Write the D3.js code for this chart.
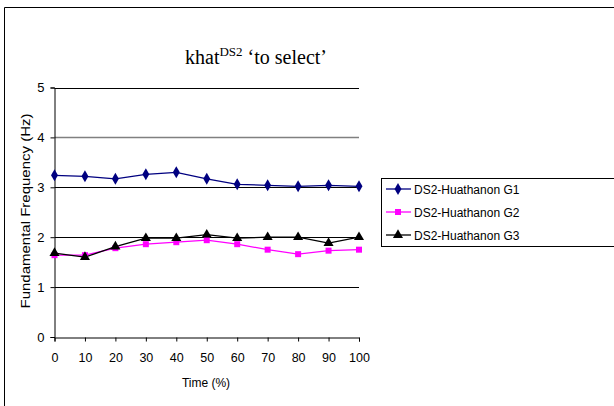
<!DOCTYPE html>
<html><head><meta charset="utf-8">
<script src="https://cdn.jsdelivr.net/npm/d3@7"></script>
<style>body{margin:0;background:#fff}svg{display:block}</style>
</head><body>
<script>
const times = [0,10,20,30,40,50,60,70,80,90,100];
const g1 = [3.24,3.22,3.17,3.26,3.30,3.17,3.06,3.04,3.02,3.04,3.02];
const g2 = [1.64,1.64,1.78,1.86,1.90,1.94,1.86,1.75,1.66,1.73,1.75];
const g3 = [1.68,1.60,1.81,1.98,1.98,2.05,1.98,2.00,2.00,1.88,2.00];
const seriesNames = ["DS2-Huathanon G1","DS2-Huathanon G2","DS2-Huathanon G3"];
const yTicks = [0,1,2,3,4,5];
const xTicks = [0,10,20,30,40,50,60,70,80,90,100];

const W=614,H=406;
const svg=d3.select("body").append("svg").attr("width",W).attr("height",H);
svg.append("rect").attr("width",W).attr("height",H).attr("fill","#fff");
// outer frame (left and top visible)
svg.append("path").attr("d","M4.5,406 V7.5 H614").attr("fill","none").attr("stroke","#000").attr("stroke-width",1);

const x=d3.scaleLinear().domain([0,100]).range([54.5,359]);
const y=d3.scaleLinear().domain([0,5]).range([337,87.5]);

// gridlines
svg.append("g").selectAll("line").data(yTicks.filter(d=>d>0)).join("line")
 .attr("x1",x(0)).attr("x2",x(100)).attr("y1",d=>Math.round(y(d))+0.5).attr("y2",d=>Math.round(y(d))+0.5)
 .attr("stroke",d=>d===4?"#808080":"#000").attr("stroke-width",d=>d===4?1.6:1);

const font="Arial, 'Liberation Sans', sans-serif";
// y axis
const ya=svg.append("g").attr("transform",`translate(${x(0)},0)`)
 .call(d3.axisLeft(y).tickValues(yTicks).tickFormat(d3.format("d")).tickSize(4).tickPadding(6));
ya.select(".domain").attr("stroke","#000");
ya.selectAll("text").attr("font-family",font).attr("font-size",13).attr("fill","#000");
// x axis
const xa=svg.append("g").attr("transform",`translate(0,${Math.round(y(0))+0.5})`)
 .call(d3.axisBottom(x).tickValues(xTicks).tickFormat(d3.format("d")).tickSize(4).tickPadding(12));
xa.select(".domain").attr("stroke","#000");
xa.selectAll("text").attr("font-family",font).attr("font-size",12.5).attr("fill","#000");

// titles
const t=svg.append("text").attr("x",256).attr("y",64).attr("text-anchor","middle")
 .attr("font-family","'Liberation Serif','Times New Roman',serif").attr("font-size",20).attr("fill","#000");
t.append("tspan").text("khat");
t.append("tspan").attr("dy",-8).attr("font-size",13).text("DS2");
t.append("tspan").attr("dy",8).text(" \u2018to select\u2019");

svg.append("text").attr("x",206).attr("y",387).attr("text-anchor","middle")
 .attr("font-family",font).attr("font-size",12).text("Time (%)");
svg.append("text").attr("transform","translate(29.5,211) scale(1,1.2) rotate(-90)").attr("text-anchor","middle")
 .attr("font-family",font).attr("font-size",12.5).text("Fundamental Frequency (Hz)");

const colors=["#000080","#FF00FF","#000000"];
const shapes=[d3.symbolDiamond,d3.symbolSquare,d3.symbolTriangle];
const sizes=[42,36,44];
const data=[g1,g2,g3];
const line=d3.line().x((d,i)=>x(times[i])).y(d=>y(d));
data.forEach((s,k)=>{
  svg.append("path").datum(s).attr("d",line).attr("fill","none").attr("stroke",colors[k]).attr("stroke-width",1.3);
});
data.forEach((s,k)=>{
  svg.append("g").selectAll("path").data(s).join("path")
   .attr("transform",(d,i)=>`translate(${x(times[i])},${y(d)})`)
   .attr("d",d3.symbol().type(shapes[k]).size(sizes[k])).attr("fill",colors[k]);
});

// legend
svg.append("rect").attr("x",381.5).attr("y",178.5).attr("width",240).attr("height",68)
 .attr("fill","#fff").attr("stroke","#000");
seriesNames.forEach((n,k)=>{
  const ly=189+k*23;
  svg.append("line").attr("x1",386).attr("x2",411).attr("y1",ly).attr("y2",ly).attr("stroke",colors[k]).attr("stroke-width",1.3);
  svg.append("path").attr("transform",`translate(398,${ly})`).attr("d",d3.symbol().type(shapes[k]).size(sizes[k])).attr("fill",colors[k]);
  svg.append("text").attr("x",414).attr("y",ly+4.5).attr("font-family",font).attr("font-size",12).text(n);
});
</script>
</body></html>
